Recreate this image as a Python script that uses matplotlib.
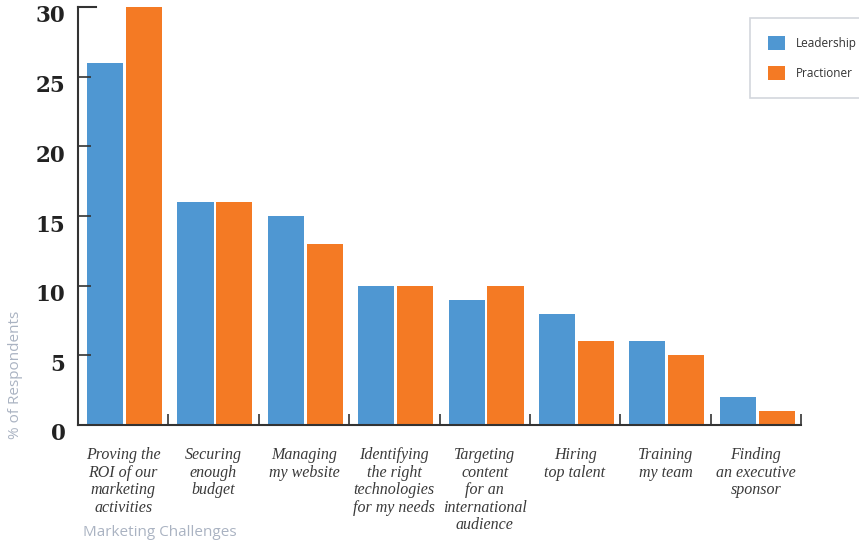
import numpy as np
import matplotlib.pyplot as plt
from matplotlib.transforms import ScaledTranslation

categories = ["Proving the\nROI of our\nmarketing\nactivities",
              "Securing\nenough\nbudget",
              "Managing\nmy website",
              "Identifying\nthe right\ntechnologies\nfor my needs",
              "Targeting\ncontent\nfor an\ninternational\naudience",
              "Hiring\ntop talent",
              "Training\nmy team",
              "Finding\nan executive\nsponsor"]
leadership = [26, 16, 15, 10, 9, 8, 6, 2]
practioner = [30, 16, 13, 10, 10, 6, 5, 1]
yticks = [0, 5, 10, 15, 20, 25, 30]

blue = "#4f97d2"
orange = "#f47a24"
dark = "#333333"
gray = "#aab3c2"

fig = plt.figure(figsize=(8.59, 5.43), dpi=100)
ax = fig.add_axes([78 / 859, 1 - 425 / 543, (801 - 78) / 859, (425 - 7) / 543])

x = np.arange(len(categories))
ax.bar(x - 0.2, leadership, width=0.4, color=blue, label="Leadership")
ax.bar(x + 0.23, practioner, width=0.4, color=orange, label="Practioner")

ax.set_xlim(-0.5, len(categories) - 0.5)
ax.set_ylim(0, 30)

for s in ["top", "right"]:
    ax.spines[s].set_visible(False)
for s in ["left", "bottom"]:
    ax.spines[s].set_color(dark)
    ax.spines[s].set_linewidth(1.5)

# short cap at the top of the y axis
ax.axhline(30, xmin=0, xmax=0.025, color=dark, lw=1.5, clip_on=False)

ax.set_yticks(yticks)
ax.set_yticklabels([str(v) for v in yticks], fontfamily="DejaVu Serif",
                   fontweight="bold", fontsize=15.5, color="#222222")
ax.tick_params(axis="y", direction="in", length=9, width=1.2, color=dark, pad=9)
for lab in ax.get_yticklabels():
    lab.set_transform(lab.get_transform() + ScaledTranslation(0, -7 / 100, fig.dpi_scale_trans))

ax.set_xticks(x)
ax.set_xticklabels(categories, fontfamily="Liberation Serif", fontstyle="italic",
                   fontsize=11.5, color="#3a3a3a", linespacing=1.12)
ax.tick_params(axis="x", length=0, pad=16)
ax.set_xticks(x + 0.5, minor=True)
ax.tick_params(axis="x", which="minor", direction="in", length=8, width=1.2, color=dark)

fig.text(83 / 859, 1 - 533 / 543, "Marketing Challenges", fontfamily="Open Sans",
         fontsize=11, color=gray, ha="left", va="center")
fig.text(16 / 859, 1 - 375 / 543, "% of Respondents", fontfamily="Open Sans",
         fontsize=11, color=gray, rotation=90, ha="center", va="center")

leg = fig.legend(loc="upper left", bbox_to_anchor=(750 / 859, 1 - 18 / 543),
                 prop={"family": "Open Sans", "size": 8.5}, frameon=True, fancybox=False,
                 handlelength=1.45, handleheight=1.45, borderpad=1.5, labelspacing=1.4,
                 handletextpad=0.95, borderaxespad=0)
leg.get_frame().set_edgecolor("#c8ccd4")
leg.get_frame().set_linewidth(1.2)
for t in leg.get_texts():
    t.set_color(dark)

fig.savefig("out.png", dpi=100)
